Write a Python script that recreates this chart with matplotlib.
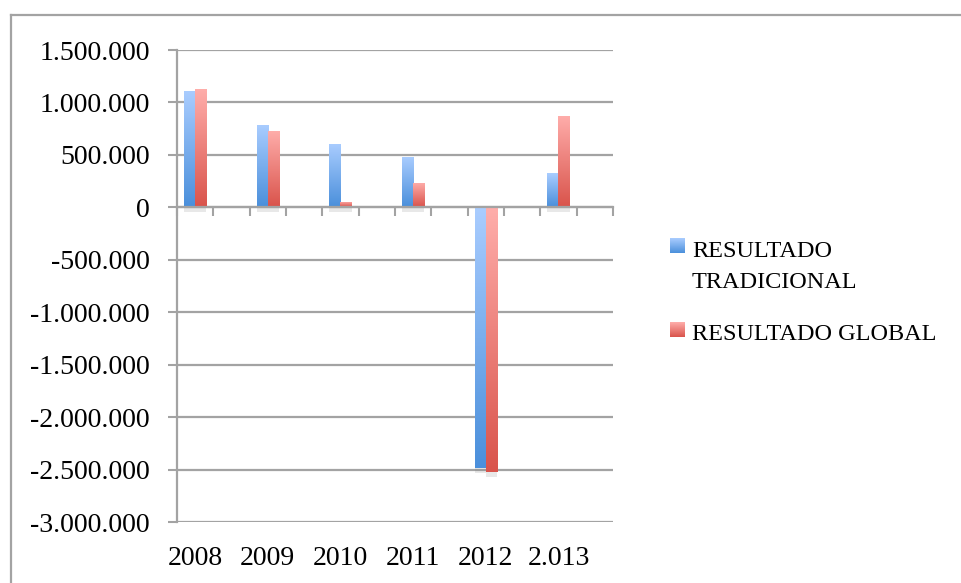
import matplotlib
matplotlib.use("Agg")
import matplotlib.pyplot as plt
import numpy as np
from matplotlib.colors import LinearSegmentedColormap
from matplotlib.lines import Line2D
from matplotlib.ticker import FixedLocator, FuncFormatter
import matplotlib.patheffects as pe

# Data
years = ["2008", "2009", "2010", "2011", "2012", "2.013"]
resultado_tradicional = [1107000, 782000, 601000, 480000, -2488000, 324000]
resultado_global = [1126000, 725000, 48000, 229000, -2526000, 868000]
series_names = ["RESULTADO TRADICIONAL", "RESULTADO GLOBAL"]
y_ticks = [-3000000, -2500000, -2000000, -1500000, -1000000, -500000,
           0, 500000, 1000000, 1500000]

plt.rcParams["font.family"] = ["Liberation Serif", "DejaVu Serif"]
W, H = 962, 583
fig = plt.figure(figsize=(W / 100, H / 100), dpi=100)
fig.patch.set_facecolor("white")

def fx(px):
    return px / W

def fy(py):
    return 1 - py / H

ax = fig.add_axes([fx(177), fy(522), fx(613) - fx(177), fy(50) - fy(522)])
grid_col = "#a3a3a3"

blue_cmap = LinearSegmentedColormap.from_list("blue", ["#4a8fdb", "#aacdff"])
red_cmap = LinearSegmentedColormap.from_list("red", ["#d9534b", "#ffaeab"])

# each year occupies every other slot on the category axis
n_slots = 2 * len(years)
centers = np.arange(len(years)) * 2
bw = 0.31

shadow = [pe.SimplePatchShadow(offset=(0, -3.5), shadow_rgbFace="#808080", alpha=0.18),
          pe.Normal()]

grad = np.linspace(0, 1, 256).reshape(-1, 1)
for vals, cmap, off in [(resultado_tradicional, blue_cmap, -bw / 2),
                        (resultado_global, red_cmap, bw / 2)]:
    bars = ax.bar(centers + off, vals, width=bw, color=cmap(0.5), zorder=3,
                  linewidth=0)
    for b in bars:
        b.set_path_effects(shadow)
        x0 = b.get_x()
        x1 = x0 + b.get_width()
        y0 = min(b.get_y(), b.get_y() + b.get_height())
        y1 = max(b.get_y(), b.get_y() + b.get_height())
        im = ax.imshow(grad, cmap=cmap, extent=[x0, x1, y0, y1], origin="lower",
                       aspect="auto", zorder=4, interpolation="bilinear")
        im.set_clip_path(b)

ax.set_xlim(-0.5, n_slots - 0.5)
ax.set_ylim(-3000000, 1500000)

# horizontal gridlines
ax.set_yticks(y_ticks)
ax.yaxis.set_major_formatter(FuncFormatter(lambda v, p: f"{v:,.0f}".replace(",", ".")))
ax.grid(axis="y", color=grid_col, linewidth=1.6, zorder=0)
ax.set_axisbelow(True)
ax.tick_params(axis="y", direction="out", length=6.5, width=1.5, color=grid_col,
               pad=13, labelsize=20, labelcolor="black")

for s in ["top", "right"]:
    ax.spines[s].set_visible(False)
ax.spines["left"].set_color(grid_col)
ax.spines["left"].set_linewidth(1.6)
ax.spines["bottom"].set_position(("data", 0))
ax.spines["bottom"].set_color(grid_col)
ax.spines["bottom"].set_linewidth(1.6)
ax.spines["bottom"].set_zorder(5)

# category boundary ticks along the zero line
ax.xaxis.set_major_locator(FixedLocator(np.arange(n_slots + 1) - 0.5))
ax.tick_params(axis="x", direction="out", length=6.5, width=1.5, color=grid_col,
               labelbottom=False)

# year labels along the bottom of the plot area
sec = ax.secondary_xaxis(0)
sec.set_xticks(centers)
sec.set_xticklabels(years)
sec.tick_params(length=0, pad=17, labelsize=20, labelcolor="black")
sec.spines["bottom"].set_visible(False)

# legend
legend_items = [
    (["RESULTADO", "TRADICIONAL"], blue_cmap, 238, 257),
    (["RESULTADO GLOBAL"], red_cmap, 322, 340),
]
for lines, cmap, top_px, base_px in legend_items:
    mk = fig.add_axes([fx(670), fy(top_px + 15), fx(15), fy(top_px) - fy(top_px + 15)])
    mk.imshow(grad, cmap=cmap, origin="lower", aspect="auto")
    mk.set_axis_off()
    for i, line in enumerate(lines):
        fig.text(fx(692), fy(base_px + 31 * i), line, fontsize=17.5,
                 va="baseline", ha="left", color="black")

# chart frame
fig.add_artist(Line2D([fx(11), 1.0], [fy(15), fy(15)], color=grid_col, lw=1.6,
                      transform=fig.transFigure))
fig.add_artist(Line2D([fx(11), fx(11)], [fy(15), 0.0], color=grid_col, lw=1.6,
                      transform=fig.transFigure))

fig.savefig("out.png", dpi=100)
